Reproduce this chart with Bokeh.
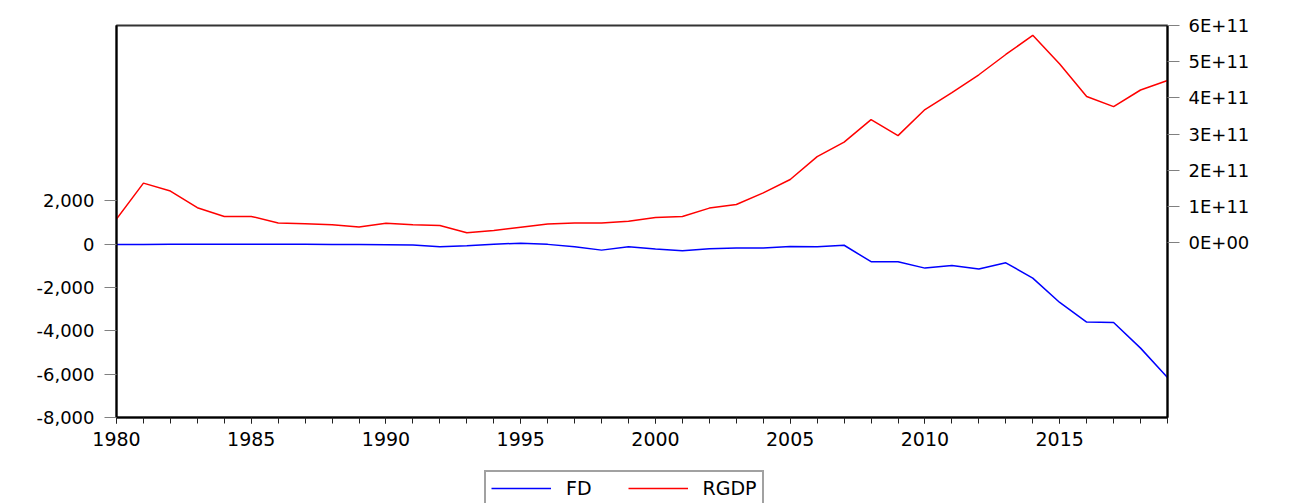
from bokeh.plotting import figure
from bokeh.layouts import column
from bokeh.models import (Range1d, LinearAxis, FixedTicker, NumeralTickFormatter,
                          CustomJSTickFormatter, Legend, LegendItem)
from bokeh.embed import file_html
from bokeh.resources import INLINE

years = list(range(1980, 2020))
fd = [-25, -20, -10, -10, -10, -15, -15, -15, -20, -25,
      -30, -40, -125, -80, -10, 40, -15, -125, -280, -125,
      -230, -310, -215, -185, -180, -110, -125, -55, -815, -815,
      -1110, -985, -1155, -865, -1570, -2695, -3600, -3620, -4800, -6155]
rgdp = [0.66e11, 1.65e11, 1.43e11, 0.97e11, 0.73e11, 0.73e11, 0.55e11, 0.53e11, 0.50e11, 0.44e11,
        0.54e11, 0.50e11, 0.48e11, 0.28e11, 0.34e11, 0.43e11, 0.52e11, 0.55e11, 0.55e11, 0.60e11,
        0.70e11, 0.73e11, 0.96e11, 1.06e11, 1.38e11, 1.75e11, 2.38e11, 2.78e11, 3.40e11, 2.96e11,
        3.68e11, 4.15e11, 4.64e11, 5.20e11, 5.73e11, 4.94e11, 4.04e11, 3.76e11, 4.22e11, 4.48e11]
series_names = ["FD", "RGDP"]
series_colors = ["#0000ff", "#ff0000"]
left_ticks = [-8000, -6000, -4000, -2000, 0, 2000]
right_ticks = [0, 1e11, 2e11, 3e11, 4e11, 5e11, 6e11]
x_major = [1980, 1985, 1990, 1995, 2000, 2005, 2010, 2015]

FONT = "DejaVu Sans"

p = figure(width=1293, height=452, output_backend="svg", toolbar_location=None,
           x_range=Range1d(1980, 2019), y_range=Range1d(-8000, 10080),
           min_border_left=116, min_border_right=126, min_border_top=25,
           min_border_bottom=35)
p.extra_y_ranges = {"right": Range1d(-4.82e11, 6e11)}
p.xgrid.visible = False
p.ygrid.visible = False
p.outline_line_color = "#333333"
p.outline_line_width = 2
p.background_fill_color = "white"
p.border_fill_color = "white"

p.line(years, fd, line_color=series_colors[0], line_width=1.5)
p.line(years, rgdp, line_color=series_colors[1], line_width=1.5, y_range_name="right")

xa = p.xaxis[0]
xa.ticker = FixedTicker(ticks=x_major, minor_ticks=years)
xa.axis_line_color = "black"
xa.axis_line_width = 2
xa.major_tick_in = 0
xa.major_tick_out = 6
xa.minor_tick_in = 0
xa.minor_tick_out = 6
xa.major_tick_line_color = "#222222"
xa.minor_tick_line_color = "#222222"
xa.major_label_text_font = FONT
xa.major_label_text_font_size = "19px"
xa.major_label_text_color = "black"
xa.major_label_standoff = 8

ya = p.yaxis[0]
ya.ticker = FixedTicker(ticks=left_ticks, minor_ticks=[])
ya.formatter = NumeralTickFormatter(format="0,0")
ya.axis_line_color = "black"
ya.axis_line_width = 2
ya.major_tick_in = 0
ya.major_tick_out = 12
ya.minor_tick_line_color = None
ya.major_tick_line_color = "#808080"
ya.major_label_text_font = FONT
ya.major_label_text_font_size = "18px"
ya.major_label_text_color = "black"
ya.major_label_standoff = 10

ra = LinearAxis(y_range_name="right")
ra.ticker = FixedTicker(ticks=right_ticks, minor_ticks=[])
ra.formatter = CustomJSTickFormatter(code="return tick == 0 ? '0E+00' : Math.round(tick/1e11) + 'E+11';")
ra.axis_line_color = "black"
ra.axis_line_width = 2
ra.major_tick_in = 0
ra.major_tick_out = 12
ra.minor_tick_line_color = None
ra.major_tick_line_color = "#808080"
ra.major_label_text_font = FONT
ra.major_label_text_font_size = "18px"
ra.major_label_text_color = "black"
ra.major_label_standoff = 9
p.add_layout(ra, "right")

# legend strip below the chart (lines lie outside its view, only the legend shows)
p2 = figure(width=1293, height=51, output_backend="svg", toolbar_location=None,
            x_axis_location=None, y_axis_location=None, min_border=0,
            x_range=Range1d(0, 1), y_range=Range1d(0, 1))
p2.outline_line_color = None
p2.xgrid.visible = False
p2.ygrid.visible = False
g1 = p2.line(years, fd, line_color=series_colors[0], line_width=1.5)
g2 = p2.line(years, rgdp, line_color=series_colors[1], line_width=1.5)

legend = Legend(items=[LegendItem(label=series_names[0], renderers=[g1]),
                       LegendItem(label=series_names[1], renderers=[g2])],
                orientation="horizontal", location=(368, -3))
legend.label_text_font = FONT
legend.label_text_font_size = "19px"
legend.label_text_color = "black"
legend.glyph_width = 60
legend.glyph_height = 18
legend.label_height = 18
legend.label_standoff = 15
legend.spacing = 36
legend.padding = 5
legend.margin = 0
legend.border_line_color = "#444444"
legend.border_line_width = 2
legend.background_fill_alpha = 1
p2.add_layout(legend, "center")

layout = column(p, p2, spacing=0)
open("out.html", "w").write(file_html(layout, INLINE))
